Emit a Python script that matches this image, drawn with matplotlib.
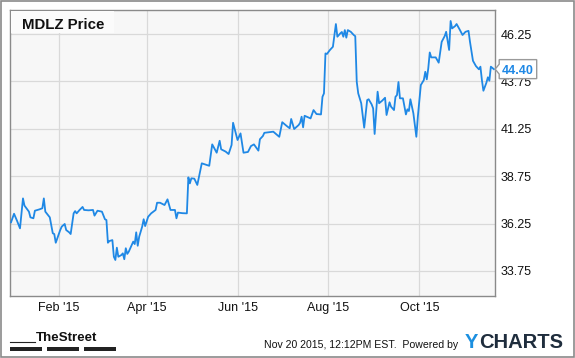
import matplotlib
matplotlib.use("Agg")
import matplotlib.pyplot as plt
import matplotlib.dates as mdates
from matplotlib.patches import Rectangle, Polygon
from matplotlib.transforms import IdentityTransform
import pandas as pd

plt.rcParams['font.family'] = ['Liberation Sans', 'DejaVu Sans']

# MDLZ closing prices
dates = [
    "2014-12-31", "2015-01-02", "2015-01-04", "2015-01-06", "2015-01-08", "2015-01-09",
    "2015-01-12", "2015-01-13", "2015-01-15", "2015-01-16", "2015-01-19", "2015-01-21",
    "2015-01-22", "2015-01-23", "2015-01-26", "2015-01-28", "2015-01-29", "2015-01-30",
    "2015-02-02", "2015-02-03", "2015-02-05", "2015-02-06", "2015-02-08", "2015-02-09",
    "2015-02-11", "2015-02-12", "2015-02-13", "2015-02-15", "2015-02-17", "2015-02-18",
    "2015-02-21", "2015-02-24", "2015-02-25", "2015-02-27", "2015-03-02", "2015-03-04",
    "2015-03-05", "2015-03-06", "2015-03-07", "2015-03-09", "2015-03-10", "2015-03-11",
    "2015-03-12", "2015-03-13", "2015-03-15", "2015-03-16", "2015-03-17", "2015-03-18",
    "2015-03-19", "2015-03-20", "2015-03-22", "2015-03-23", "2015-03-24", "2015-03-25",
    "2015-03-26", "2015-03-27", "2015-03-29", "2015-03-30", "2015-03-31", "2015-04-02",
    "2015-04-04", "2015-04-07", "2015-04-08", "2015-04-10", "2015-04-13", "2015-04-15",
    "2015-04-17", "2015-04-20", "2015-04-21", "2015-04-22", "2015-04-25", "2015-04-28",
    "2015-04-29", "2015-04-30", "2015-05-01", "2015-05-03", "2015-05-05", "2015-05-08",
    "2015-05-10", "2015-05-13", "2015-05-15", "2015-05-18", "2015-05-20", "2015-05-21",
    "2015-05-24", "2015-05-26", "2015-05-28", "2015-05-29", "2015-06-01", "2015-06-03",
    "2015-06-05", "2015-06-08", "2015-06-10", "2015-06-12", "2015-06-15", "2015-06-16",
    "2015-06-18", "2015-06-19", "2015-06-23", "2015-06-25", "2015-06-29", "2015-07-01",
    "2015-07-04", "2015-07-06", "2015-07-07", "2015-07-09", "2015-07-12", "2015-07-13",
    "2015-07-14", "2015-07-15", "2015-07-16", "2015-07-20", "2015-07-22", "2015-07-24",
    "2015-07-27", "2015-07-28", "2015-07-29", "2015-07-30", "2015-07-31", "2015-08-02",
    "2015-08-04", "2015-08-06", "2015-08-07", "2015-08-09", "2015-08-10", "2015-08-11",
    "2015-08-12", "2015-08-13", "2015-08-14", "2015-08-16", "2015-08-18", "2015-08-19",
    "2015-08-20", "2015-08-21", "2015-08-23", "2015-08-25", "2015-08-27", "2015-08-28",
    "2015-08-30", "2015-08-31", "2015-09-01", "2015-09-03", "2015-09-04", "2015-09-06",
    "2015-09-08", "2015-09-09", "2015-09-11", "2015-09-12", "2015-09-14", "2015-09-15",
    "2015-09-16", "2015-09-17", "2015-09-18", "2015-09-20", "2015-09-22", "2015-09-23",
    "2015-09-24", "2015-09-25", "2015-09-27", "2015-09-29", "2015-09-30", "2015-10-02",
    "2015-10-04", "2015-10-05", "2015-10-06", "2015-10-07", "2015-10-08", "2015-10-09",
    "2015-10-12", "2015-10-14", "2015-10-16", "2015-10-18", "2015-10-19", "2015-10-21",
    "2015-10-22", "2015-10-23", "2015-10-25", "2015-10-26", "2015-10-28", "2015-10-30",
    "2015-11-01", "2015-11-03", "2015-11-04", "2015-11-06", "2015-11-08", "2015-11-10",
    "2015-11-11", "2015-11-12", "2015-11-13", "2015-11-15", "2015-11-16", "2015-11-17",
    "2015-11-18", "2015-11-20",
]
prices = [
    36.32, 36.77, 36.40, 36.00, 37.58, 37.20,
    36.88, 36.58, 36.53, 36.93, 37.00, 37.06,
    37.58, 36.88, 36.58, 35.74, 35.70, 35.24,
    35.91, 36.09, 36.23, 35.91, 35.79, 35.70,
    36.79, 36.91, 36.79, 36.97, 37.13, 36.97,
    36.95, 36.97, 36.67, 36.93, 36.88, 36.48,
    36.44, 35.24, 35.33, 35.38, 34.50, 34.33,
    34.98, 34.50, 34.59, 34.68, 34.37, 34.95,
    34.65, 34.77, 35.12, 35.30, 35.17, 35.79,
    35.08, 35.56, 36.09, 36.48, 36.12, 36.61,
    36.79, 36.97, 37.35, 37.35, 37.23, 37.53,
    36.97, 36.97, 36.53, 36.83, 36.80, 36.79,
    38.69, 38.37, 38.64, 38.62, 38.29, 39.43,
    39.38, 39.30, 40.43, 39.99, 40.62, 40.17,
    40.05, 39.92, 40.40, 41.57, 40.66, 41.01,
    39.99, 40.03, 40.34, 40.43, 40.10, 40.70,
    40.87, 41.04, 41.08, 41.10, 40.83, 41.60,
    41.40, 41.28, 41.77, 41.24, 41.45, 41.57,
    41.89, 41.33, 41.94, 41.80, 42.24, 42.03,
    42.01, 42.94, 43.12, 45.23, 45.20, 45.41,
    45.58, 46.78, 46.11, 46.29, 46.36, 46.11,
    46.46, 46.06, 46.46, 46.37, 46.20, 46.14,
    43.73, 43.12, 42.60, 41.31, 42.77, 42.81,
    42.54, 42.33, 40.98, 43.21, 42.60, 42.73,
    42.89, 41.98, 42.65, 42.42, 42.24, 42.94,
    43.03, 43.72, 42.86, 42.86, 42.01, 42.28,
    42.19, 42.81, 42.07, 40.83, 41.89, 43.56,
    43.82, 44.26, 43.86, 44.44, 45.28, 45.02,
    45.02, 44.74, 45.84, 46.14, 46.37, 45.41,
    46.94, 46.55, 46.67, 46.78, 46.50, 46.20,
    46.37, 46.42, 45.84, 44.84, 44.56, 44.39,
    44.53, 43.82, 43.26, 43.68, 43.97, 43.79,
    44.53, 44.40,
]
y_ticks = [33.75, 36.25, 38.75, 41.25, 43.75, 46.25]
x_ticks = ["2015-02-01", "2015-04-01", "2015-06-01", "2015-08-01", "2015-10-01"]

title = "MDLZ Price"
stamp = "Nov 20 2015, 12:12PM EST.  Powered by"

W, H = 575, 358
LINE = "#1f88e5"


def fx(px):
    return px / W


def fy(py):
    return 1 - py / H


fig = plt.figure(figsize=(W / 100, H / 100), dpi=100)
fig.patch.set_facecolor("white")

left, top, right, bottom = 10, 10, 494.7, 296
ax = fig.add_axes([fx(left), fy(bottom), fx(right - left), (bottom - top) / H])
ax.set_facecolor("#f7f7f7")

x = pd.to_datetime(dates)
ax.plot(x, prices, color=LINE, lw=1.3, solid_joinstyle="round", zorder=3)

ax.set_ylim(32.43, 47.52)
ax.set_xlim(mdates.date2num(pd.Timestamp("2014-12-30 07:00")),
            mdates.date2num(pd.Timestamp("2015-11-20 14:00")))

ax.set_yticks(y_ticks)
ax.set_yticklabels([f"{v:.2f}" for v in y_ticks])
ax.yaxis.tick_right()
ax.set_xticks(pd.to_datetime(x_ticks))
ax.xaxis.set_major_formatter(mdates.DateFormatter("%b '%y"))
ax.tick_params(axis="both", length=0, labelsize=9, colors="#111111")
ax.tick_params(axis="y", pad=4)
ax.tick_params(axis="x", pad=4)

ax.grid(True, color="#d9d9d9", lw=0.9, zorder=0)
ax.set_axisbelow(True)
for s in ax.spines.values():
    s.set_color("#8a8a8a")
    s.set_linewidth(1.0)

# title box in the corner of the plot
fig.add_artist(Rectangle((fx(left + 0.5), fy(33)), fx(103), 22.5 / H,
                         transform=fig.transFigure, facecolor="#fbfbfb",
                         edgecolor="none", zorder=4))
fig.text(fx(21.5), fy(29.3), title, fontsize=10.8, fontweight="bold",
         ha="left", va="baseline", color="#111111", zorder=5)

# last price callout
fig.canvas.draw()
tx, ty = ax.get_yaxis_transform().transform((1, prices[-1]))
bx0, bx1, bh, nh = tx + 4.5, tx + 42, 9.5, 5
verts = [(tx + 0.5, ty), (bx0, ty + nh), (bx0, ty + bh), (bx1, ty + bh),
         (bx1, ty - bh), (bx0, ty - bh), (bx0, ty - nh)]
fig.add_artist(Polygon(verts, closed=True, transform=IdentityTransform(),
                       facecolor="white", edgecolor="#9a9a9a", lw=1.0, zorder=6))
fig.text((bx0 + bx1) / 2 / W, ty / H, f"{prices[-1]:.2f}", fontsize=9,
         fontweight="bold", color=LINE, ha="center", va="center_baseline", zorder=7)

# footer
fig.text(fx(35.5), fy(341), "TheStreet", fontsize=9.6, fontweight="bold",
         ha="left", va="baseline", color="#111111")
fig.add_artist(plt.Line2D([fx(10), fx(35)], [fy(341.5), fy(341.5)],
                          color="#222222", lw=0.8))
for a, b in [(10, 42), (47, 78.5), (83.6, 116)]:
    fig.add_artist(Rectangle((fx(a), fy(350.8)), fx(b - a), 3.5 / H,
                             transform=fig.transFigure, facecolor="#222222",
                             edgecolor="none"))
fig.text(fx(458), fy(348.3), stamp, fontsize=7.6, ha="right", va="baseline",
         color="#111111")
fig.text(fx(464.5), fy(348.3), "Y", fontsize=14.5, fontweight="bold",
         ha="left", va="baseline", color="#1b8fe0")
fig.text(fx(479.5), fy(348.3), "CHARTS", fontsize=14.5, fontweight="bold",
         ha="left", va="baseline", color="#1f2d3d")

# outer frame
fig.add_artist(Rectangle((fx(0.75), fy(357.25)), fx(573.5), 356.5 / H,
                         transform=fig.transFigure, facecolor="none",
                         edgecolor="#8a8a8a", lw=1.2))

fig.savefig("out.png", dpi=100, facecolor="white")
